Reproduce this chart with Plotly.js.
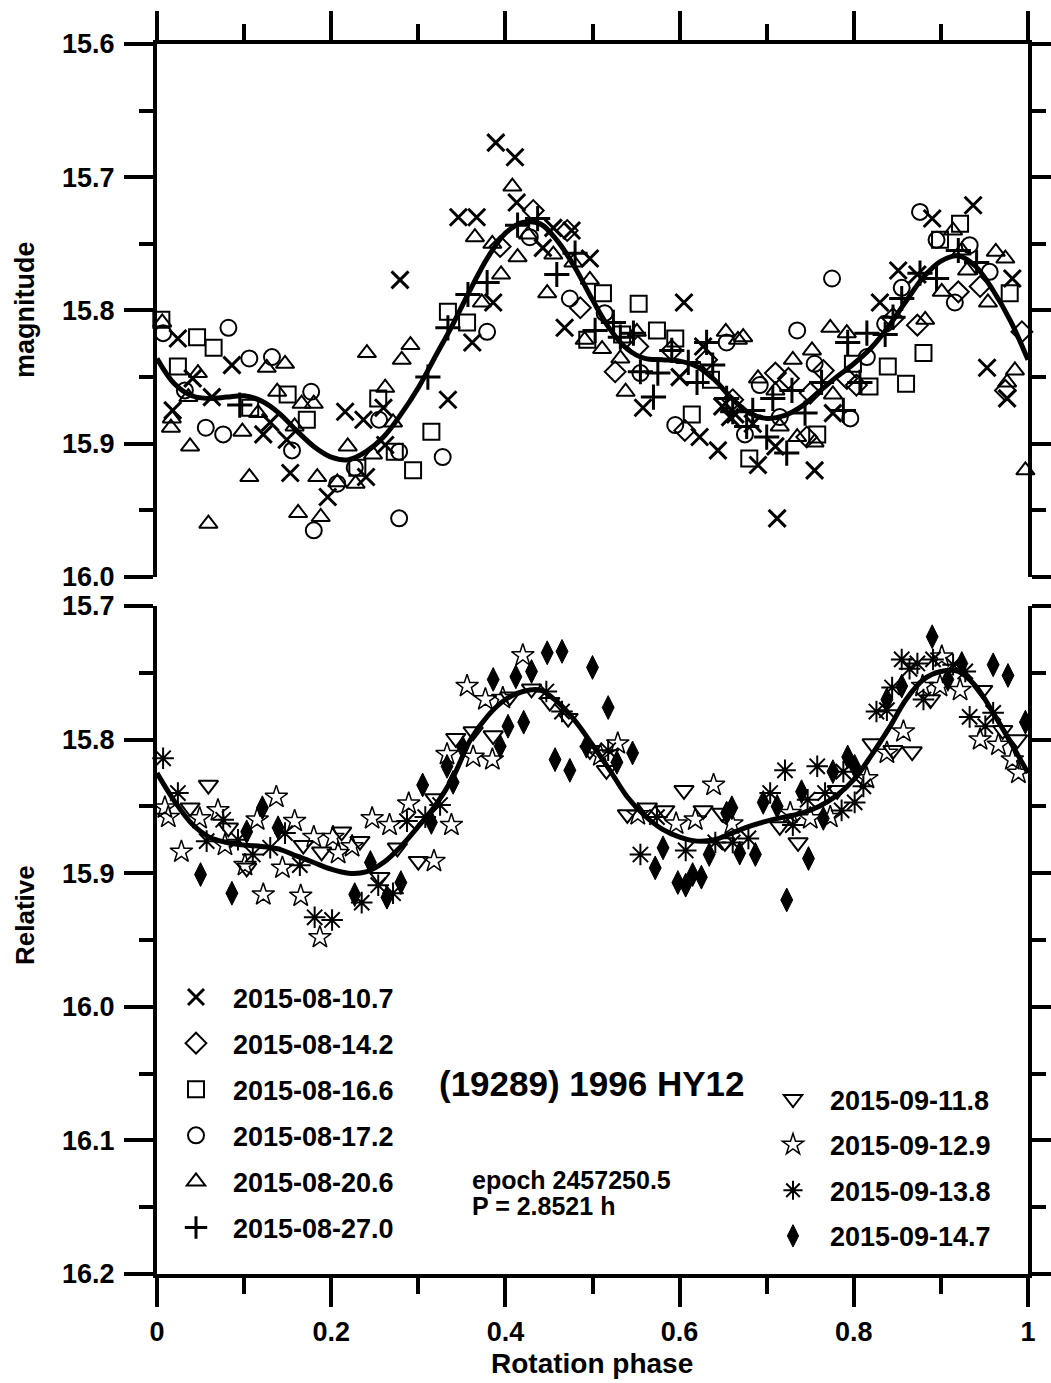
<!DOCTYPE html>
<html>
<head>
<meta charset="utf-8">
<script src="https://cdn.plot.ly/plotly-3.0.1.min.js"></script>
<style>html,body{margin:0;padding:0;background:#fff;}#chart{width:1051px;height:1383px;}</style>
</head>
<body>
<div id="chart"></div>
<script>
// ---------- Data ----------
// Upper panel: August 2015 sessions
const ph_0810 = [0.024,0.018,0.041,0.063,0.086,0.122,0.13,0.149,0.153,0.196,0.216,0.237,0.24,0.26,0.262,0.279,0.334,0.346,0.367,0.389,0.411,0.413,0.386,0.362,0.443,0.455,0.476,0.497,0.468,0.605,0.558,0.6,0.623,0.644,0.627,0.649,0.664,0.937,0.89,0.851,0.873,0.83,0.982,0.953,0.976,0.776,0.755,0.712,0.69,0.71,0.658,0.684];
const mag_0810 = [15.821,15.875,15.851,15.865,15.841,15.893,15.884,15.897,15.922,15.940,15.876,15.882,15.925,15.873,15.901,15.777,15.867,15.730,15.730,15.674,15.685,15.719,15.794,15.824,15.753,15.738,15.740,15.761,15.813,15.794,15.873,15.850,15.895,15.905,15.827,15.872,15.878,15.721,15.731,15.770,15.773,15.794,15.776,15.843,15.866,15.877,15.920,15.956,15.916,15.902,15.880,15.885];

const ph_0814 = [0.432,0.394,0.471,0.486,0.526,0.552,0.591,0.631,0.606,0.661,0.71,0.725,0.746,0.765,0.792,0.75,0.873,0.92,0.945,0.993,0.974,0.803,0.845];
const mag_0814 = [15.725,15.752,15.740,15.798,15.846,15.827,15.830,15.837,15.890,15.867,15.847,15.851,15.895,15.845,15.851,15.862,15.811,15.786,15.782,15.816,15.860,15.856,15.806];

const ph_0816 = [0.005,0.024,0.046,0.065,0.107,0.150,0.172,0.254,0.273,0.294,0.315,0.334,0.23,0.356,0.512,0.553,0.534,0.494,0.574,0.595,0.636,0.614,0.922,0.899,0.979,0.88,0.839,0.86,0.818,0.799,0.758,0.68];
const mag_0816 = [15.807,15.842,15.820,15.828,15.873,15.863,15.882,15.866,15.906,15.920,15.891,15.801,15.918,15.809,15.787,15.795,15.818,15.822,15.815,15.821,15.852,15.878,15.735,15.747,15.787,15.832,15.842,15.855,15.857,15.840,15.893,15.911];

const ph_0817 = [0.007,0.082,0.032,0.056,0.076,0.106,0.132,0.177,0.155,0.180,0.207,0.227,0.255,0.278,0.278,0.328,0.379,0.428,0.474,0.514,0.555,0.595,0.654,0.692,0.735,0.715,0.675,0.755,0.796,0.775,0.815,0.836,0.855,0.876,0.895,0.933,0.916,0.956];
const mag_0817 = [15.817,15.813,15.860,15.888,15.893,15.836,15.835,15.861,15.905,15.965,15.930,15.918,15.882,15.906,15.956,15.910,15.816,15.745,15.791,15.802,15.847,15.886,15.824,15.856,15.815,15.880,15.893,15.840,15.881,15.776,15.835,15.810,15.783,15.726,15.747,15.751,15.794,15.771];

const ph_0820 = [0.006,0.017,0.016,0.038,0.047,0.036,0.059,0.098,0.106,0.126,0.147,0.138,0.116,0.158,0.162,0.166,0.18,0.184,0.188,0.207,0.219,0.228,0.241,0.262,0.271,0.248,0.281,0.291,0.365,0.373,0.385,0.395,0.408,0.414,0.426,0.448,0.455,0.478,0.497,0.491,0.511,0.532,0.538,0.551,0.653,0.667,0.673,0.69,0.71,0.715,0.73,0.735,0.752,0.755,0.773,0.776,0.792,0.882,0.901,0.914,0.924,0.93,0.954,0.963,0.974,0.985,0.976,0.997];
const mag_0820 = [15.809,15.881,15.888,15.902,15.847,15.865,15.960,15.891,15.925,15.843,15.840,15.861,15.877,15.887,15.952,15.870,15.870,15.925,15.955,15.929,15.902,15.930,15.832,15.858,15.884,15.908,15.837,15.826,15.745,15.794,15.750,15.773,15.707,15.760,15.743,15.787,15.758,15.764,15.777,15.822,15.829,15.836,15.861,15.816,15.816,15.822,15.820,15.851,15.860,15.887,15.837,15.895,15.830,15.899,15.813,15.863,15.817,15.807,15.786,15.740,15.755,15.770,15.794,15.756,15.761,15.845,15.854,15.920];

const ph_0827 = [0.095,0.311,0.334,0.357,0.379,0.414,0.437,0.459,0.48,0.503,0.524,0.532,0.547,0.555,0.57,0.575,0.591,0.61,0.62,0.631,0.638,0.654,0.661,0.684,0.677,0.70,0.723,0.707,0.729,0.744,0.763,0.788,0.793,0.807,0.815,0.836,0.845,0.855,0.876,0.895,0.92,0.941];
const mag_0827 = [15.871,15.850,15.813,15.788,15.779,15.736,15.731,15.773,15.757,15.815,15.809,15.820,15.817,15.846,15.865,15.847,15.830,15.839,15.854,15.824,15.841,15.866,15.876,15.875,15.887,15.895,15.907,15.866,15.860,15.877,15.854,15.875,15.824,15.854,15.817,15.818,15.805,15.791,15.772,15.776,15.755,15.764];

// Lower panel: September 2015 sessions
const ph_0911 = [0.059,0.038,0.082,0.103,0.168,0.189,0.212,0.233,0.276,0.30,0.319,0.256,0.343,0.363,0.386,0.405,0.43,0.451,0.472,0.497,0.516,0.54,0.563,0.583,0.605,0.627,0.649,0.652,0.715,0.736,0.781,0.821,0.845,0.867,0.888,0.948,0.971,0.988];
const mag_0911 = [15.834,15.851,15.866,15.896,15.879,15.884,15.869,15.876,15.881,15.891,15.844,15.903,15.799,15.794,15.797,15.768,15.762,15.772,15.784,15.808,15.823,15.856,15.851,15.853,15.838,15.853,15.855,15.877,15.865,15.877,15.838,15.803,15.808,15.809,15.770,15.763,15.793,15.800];

const ph_0912 = [0.009,0.013,0.028,0.049,0.07,0.078,0.101,0.115,0.122,0.137,0.144,0.158,0.165,0.18,0.187,0.202,0.208,0.224,0.247,0.267,0.289,0.318,0.333,0.338,0.356,0.363,0.377,0.385,0.397,0.42,0.509,0.529,0.552,0.596,0.618,0.639,0.66,0.727,0.75,0.773,0.815,0.838,0.857,0.879,0.899,0.922,0.945,0.966,0.982,0.989,0.901];
const mag_0912 = [15.851,15.858,15.884,15.859,15.853,15.879,15.894,15.860,15.916,15.843,15.896,15.861,15.917,15.873,15.948,15.873,15.885,15.880,15.859,15.864,15.848,15.891,15.811,15.864,15.760,15.813,15.770,15.815,15.769,15.737,15.812,15.803,15.856,15.863,15.860,15.834,15.863,15.855,15.859,15.858,15.829,15.810,15.794,15.760,15.760,15.763,15.800,15.804,15.815,15.825,15.738];

const ph_0913 = [0.007,0.024,0.057,0.076,0.093,0.11,0.13,0.147,0.164,0.181,0.201,0.235,0.254,0.271,0.287,0.308,0.325,0.447,0.465,0.518,0.555,0.574,0.607,0.641,0.661,0.679,0.704,0.721,0.73,0.747,0.758,0.767,0.788,0.786,0.801,0.811,0.826,0.838,0.844,0.855,0.864,0.873,0.88,0.891,0.914,0.928,0.933,0.951,0.96];
const mag_0913 = [15.814,15.840,15.876,15.860,15.875,15.886,15.881,15.870,15.894,15.933,15.935,15.922,15.909,15.915,15.861,15.858,15.849,15.764,15.779,15.808,15.886,15.858,15.883,15.877,15.877,15.874,15.840,15.823,15.864,15.845,15.820,15.840,15.824,15.853,15.847,15.835,15.779,15.778,15.761,15.740,15.747,15.743,15.770,15.740,15.744,15.749,15.783,15.790,15.780];

const ph_0914 = [0.05,0.086,0.103,0.121,0.139,0.227,0.245,0.264,0.28,0.305,0.315,0.333,0.34,0.351,0.386,0.394,0.403,0.412,0.421,0.43,0.448,0.457,0.465,0.474,0.5,0.518,0.493,0.528,0.546,0.572,0.581,0.598,0.607,0.615,0.625,0.634,0.654,0.66,0.669,0.687,0.696,0.712,0.723,0.74,0.748,0.765,0.776,0.793,0.801,0.838,0.855,0.89,0.908,0.924,0.96,0.977,0.997];
const mag_0914 = [15.901,15.915,15.869,15.851,15.866,15.916,15.892,15.918,15.907,15.834,15.862,15.820,15.832,15.806,15.755,15.805,15.790,15.753,15.787,15.749,15.735,15.815,15.734,15.823,15.746,15.776,15.805,15.817,15.810,15.896,15.881,15.907,15.909,15.901,15.903,15.886,15.855,15.851,15.885,15.886,15.847,15.850,15.920,15.839,15.889,15.859,15.824,15.813,15.820,15.770,15.760,15.723,15.755,15.743,15.744,15.752,15.787];

// Fitted Fourier curves
const fit_phase = [0,0.02,0.04,0.06,0.08,0.10,0.12,0.14,0.16,0.18,0.20,0.22,0.24,0.26,0.28,0.30,0.32,0.34,0.36,0.38,0.40,0.42,0.44,0.46,0.48,0.50,0.52,0.54,0.56,0.58,0.60,0.62,0.64,0.66,0.68,0.70,0.72,0.74,0.76,0.78,0.80,0.82,0.84,0.86,0.88,0.90,0.92,0.94,0.96,0.98,1.00];
const fit_top = [15.836,15.855,15.864,15.866,15.865,15.864,15.868,15.877,15.890,15.902,15.910,15.912,15.906,15.895,15.878,15.858,15.834,15.810,15.784,15.760,15.742,15.734,15.735,15.748,15.768,15.792,15.814,15.829,15.836,15.837,15.838,15.842,15.852,15.866,15.877,15.881,15.879,15.872,15.861,15.850,15.840,15.828,15.812,15.793,15.775,15.763,15.759,15.767,15.785,15.808,15.837];
const fit_bottom = [15.825,15.846,15.863,15.873,15.877,15.879,15.880,15.882,15.887,15.892,15.897,15.900,15.899,15.892,15.880,15.865,15.849,15.828,15.800,15.782,15.770,15.764,15.763,15.772,15.786,15.804,15.823,15.843,15.857,15.867,15.873,15.876,15.875,15.870,15.865,15.861,15.858,15.855,15.850,15.842,15.830,15.812,15.792,15.770,15.755,15.749,15.749,15.760,15.780,15.802,15.825];

const labels_top = ['2015-08-10.7','2015-08-14.2','2015-08-16.6','2015-08-17.2','2015-08-20.6','2015-08-27.0'];
const labels_bottom = ['2015-09-11.8','2015-09-12.9','2015-09-13.8','2015-09-14.7'];
const yticks_top = [15.6,15.7,15.8,15.9,16.0];
const yticks_bottom = [15.7,15.8,15.9,16.0,16.1,16.2];
const xticks = [0,0.2,0.4,0.6,0.8,1];
const xticktext = ['0','0.2','0.4','0.6','0.8','1'];

// ---------- Build ----------
const FONT = 'Liberation Sans, Arial, Helvetica, sans-serif';
const pairs = [[ph_0810,mag_0810],[ph_0814,mag_0814],[ph_0816,mag_0816],[ph_0817,mag_0817],[ph_0820,mag_0820],[ph_0827,mag_0827],[ph_0911,mag_0911],[ph_0912,mag_0912],[ph_0913,mag_0913],[ph_0914,mag_0914]];
pairs.forEach((p,i)=>{ if(p[0].length!==p[1].length) throw new Error('length mismatch in series '+i+': '+p[0].length+' vs '+p[1].length); });

const topStyles = [
  {symbol:'x-thin-open', size:17, lw:3},
  {symbol:'diamond-open', size:16, lw:2},
  {symbol:'square-open', size:16, lw:2},
  {symbol:'circle-open', size:16, lw:2},
  {symbol:'triangle-up-open', size:16, lw:2},
  {symbol:'cross-thin-open', size:18, lw:3}
];
const botStyles = [
  {symbol:'triangle-down-open', size:17, lw:2},
  {symbol:'star-open', size:17, lw:1.5},
  {symbol:'asterisk-open', size:18, lw:2},
  {symbol:'diamond-tall', size:17, lw:1}
];

const traces = [];
labels_top.forEach((lab,i)=>{
  const s = topStyles[i];
  traces.push({type:'scatter', mode:'markers', x:pairs[i][0], y:pairs[i][1], xaxis:'x2', yaxis:'y2',
    name:lab, legend:'legend', legendgroup:'t'+i, cliponaxis:false,
    marker:{symbol:s.symbol, size:s.size, color:'black', line:{color:'black', width:s.lw}}});
});
labels_bottom.forEach((lab,i)=>{
  const s = botStyles[i];
  traces.push({type:'scatter', mode:'markers', x:pairs[6+i][0], y:pairs[6+i][1], xaxis:'x', yaxis:'y',
    name:lab, legend:'legend2', legendgroup:'b'+i, cliponaxis:false,
    marker:{symbol:s.symbol, size:s.size, color:'black', line:{color:'black', width:s.lw}}});
});
traces.push({type:'scatter', mode:'lines', x:fit_phase, y:fit_top, xaxis:'x2', yaxis:'y2', showlegend:false,
  line:{color:'black', width:5, shape:'spline', smoothing:1}});
traces.push({type:'scatter', mode:'lines', x:fit_phase, y:fit_bottom, xaxis:'x', yaxis:'y', showlegend:false,
  line:{color:'black', width:5, shape:'spline', smoothing:1}});

const tickFont = {family:FONT, size:27, color:'black', weight:700};
const yCommon = {
  showline:true, linecolor:'black', linewidth:4, mirror:'ticks',
  ticks:'outside', ticklen:29, tickwidth:4, tickcolor:'black',
  minor:{dtick:0.05, ticklen:14, tickwidth:4, tickcolor:'black', ticks:'outside', showgrid:false},
  showgrid:false, zeroline:false, tickfont:tickFont, tickformat:'.1f', ticklabelstandoff:4
};
const xCommon = {
  range:[0,1], showline:true, linecolor:'black', linewidth:4, mirror:false,
  ticks:'outside', ticklen:29, tickwidth:4, tickcolor:'black',
  minor:{dtick:0.1, ticklen:16, tickwidth:4, tickcolor:'black', ticks:'outside', showgrid:false},
  showgrid:false, zeroline:false, tickfont:tickFont,
  tickmode:'array', tickvals:xticks, ticktext:xticktext
};

const px2x = px => (px-157)/871;
const py2y = py => (1274-py)/1230;
const legFont = {family:FONT, size:27, color:'black', weight:700};

const layout = {
  width:1051, height:1383,
  margin:{l:157, r:23, t:44, b:109},
  paper_bgcolor:'white', plot_bgcolor:'white',
  showlegend:true,
  xaxis: Object.assign({}, xCommon, {anchor:'y', side:'bottom', domain:[0,1], ticklabelstandoff:2}),
  xaxis2: Object.assign({}, xCommon, {anchor:'y2', side:'top', domain:[0,1], showticklabels:false}),
  yaxis: Object.assign({}, yCommon, {anchor:'x', domain:[0,0.5431], range:[16.2,15.7], tickmode:'array', tickvals:yticks_bottom}),
  yaxis2: Object.assign({}, yCommon, {anchor:'x2', domain:[0.5667,1], range:[16.0,15.6], tickmode:'array', tickvals:yticks_top}),
  legend:{x:px2x(159), xanchor:'left', y:py2y(973), yanchor:'top', bgcolor:'rgba(0,0,0,0)', borderwidth:0,
    font:legFont, traceorder:'grouped', tracegroupgap:8, itemsizing:'trace', itemwidth:64, itemclick:false},
  legend2:{x:px2x(756), xanchor:'left', y:py2y(1075), yanchor:'top', bgcolor:'rgba(0,0,0,0)', borderwidth:0,
    font:legFont, traceorder:'grouped', tracegroupgap:7.5, itemsizing:'trace', itemwidth:64, itemclick:false},
  annotations:[
    {text:'(19289) 1996 HY12', xref:'paper', yref:'paper', x:px2x(592), y:py2y(1083), xanchor:'center', yanchor:'middle', showarrow:false,
      font:{family:FONT, size:35, color:'black', weight:700}},
    {text:'epoch 2457250.5', xref:'paper', yref:'paper', x:px2x(470), y:py2y(1180), xanchor:'left', yanchor:'middle', showarrow:false,
      font:{family:FONT, size:25, color:'black', weight:700}},
    {text:'P = 2.8521 h', xref:'paper', yref:'paper', x:px2x(470), y:py2y(1206), xanchor:'left', yanchor:'middle', showarrow:false,
      font:{family:FONT, size:25, color:'black', weight:700}},
    {text:'magnitude', xref:'paper', yref:'paper', x:px2x(25), y:py2y(310), xanchor:'center', yanchor:'middle', textangle:-90, showarrow:false,
      font:{family:FONT, size:27, color:'black', weight:700}},
    {text:'Relative', xref:'paper', yref:'paper', x:px2x(25), y:py2y(915), xanchor:'center', yanchor:'middle', textangle:-90, showarrow:false,
      font:{family:FONT, size:26, color:'black', weight:700}},
    {text:'Rotation phase', xref:'paper', yref:'paper', x:px2x(592), y:py2y(1363), xanchor:'center', yanchor:'middle', showarrow:false,
      font:{family:FONT, size:28, color:'black', weight:700}}
  ]
};

Plotly.newPlot('chart', traces, layout, {displayModeBar:false, staticPlot:true});
</script>
</body>
</html>
